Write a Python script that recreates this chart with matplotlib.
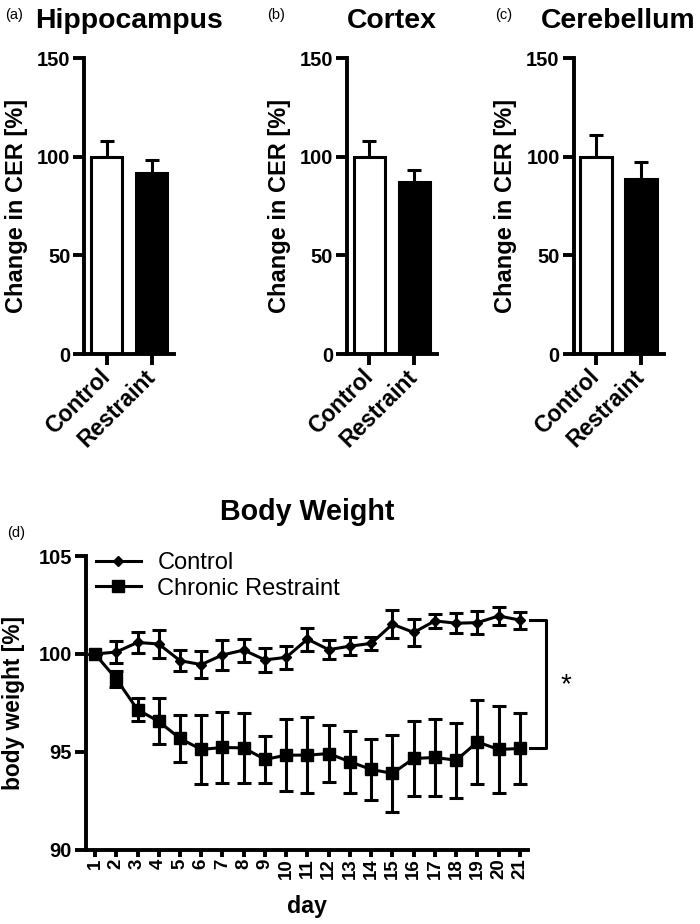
import matplotlib
matplotlib.use("Agg")
import matplotlib.pyplot as plt
from matplotlib.lines import Line2D
import numpy as np

plt.rcParams['font.family'] = ['Liberation Sans', 'DejaVu Sans']

# ---------------- data ----------------
groups = ["Control", "Restraint"]
regions = ["Hippocampus", "Cortex", "Cerebellum"]
panel_tags = ["(a)", "(b)", "(c)"]
control_cer = [100.0, 100.0, 100.0]
control_cer_sem = [7.8, 7.9, 11.3]
restraint_cer = [92.0, 87.3, 89.0]
restraint_cer_sem = [6.4, 5.8, 8.3]

days = list(range(1, 22))
control_bw = [100.0, 100.1, 100.59, 100.51, 99.66, 99.46, 99.95, 100.2, 99.7, 99.83,
              100.76, 100.22, 100.4, 100.54, 101.52, 101.1, 101.69, 101.57, 101.6,
              101.94, 101.73]
control_bw_sem = [0.0, 0.57, 0.55, 0.72, 0.52, 0.7, 0.77, 0.59, 0.6, 0.57,
                  0.59, 0.49, 0.46, 0.34, 0.72, 0.69, 0.36, 0.5, 0.59, 0.48, 0.43]
restraint_bw = [100.0, 98.73, 97.16, 96.56, 95.69, 95.13, 95.23, 95.21, 94.62, 94.84,
                94.84, 94.92, 94.5, 94.11, 93.91, 94.67, 94.72, 94.58, 95.51, 95.13,
                95.18]
restraint_bw_sem = [0.0, 0.4, 0.58, 1.17, 1.21, 1.75, 1.81, 1.8, 1.21, 1.82,
                    1.93, 1.44, 1.57, 1.55, 1.95, 1.93, 1.97, 1.91, 2.12, 2.21, 1.79]

W, H = 700, 924
fig = plt.figure(figsize=(W / 100, H / 100), dpi=100)


def px_axes(left, top, right, bottom):
    return fig.add_axes([left / W, 1 - bottom / H, (right - left) / W, (bottom - top) / H])


SLW = 2.8   # spines / ticks
LW = 2.2    # data lines

# ---------------- bar panels ----------------
lefts = [84.2, 346.9, 573.6]
for i in range(3):
    ax = px_axes(lefts[i], 58.3, lefts[i] + 90, 354)
    x = np.arange(len(groups))
    means = [control_cer[i], restraint_cer[i]]
    sems = [control_cer_sem[i], restraint_cer_sem[i]]
    ax.errorbar(x, means, yerr=[[0, 0], sems], fmt='none', ecolor='black',
                elinewidth=LW, capsize=5.2, capthick=LW, zorder=1)
    ax.bar(x, means, width=0.7, color=['white', 'black'], edgecolor='black',
           linewidth=LW, zorder=2)
    ax.set_xlim(-0.5, 1.5)
    ax.set_ylim(0, 150)
    ax.set_yticks([0, 50, 100, 150])
    ax.set_xticks(x)
    ax.set_xticklabels(groups, rotation=45, ha='right', va='center',
                       rotation_mode='anchor', fontweight='bold', fontsize=16.5)
    for lab in ax.get_yticklabels():
        lab.set_fontweight('bold')
        lab.set_fontsize(14.5)
    ax.tick_params(axis='both', length=8, width=SLW, pad=2)
    ax.tick_params(axis='x', pad=6)
    for s in ['top', 'right']:
        ax.spines[s].set_visible(False)
    for s in ['left', 'bottom']:
        ax.spines[s].set_linewidth(SLW)
    ax.set_ylabel("Change in CER [%]", fontsize=17, fontweight='bold')
    ax.yaxis.set_label_coords(-0.625, 0.5)
    ax.set_title(regions[i], fontsize=20.4, fontweight='bold', pad=22)

fig.text(5 / W, 1 - 19 / H, panel_tags[0], fontsize=10.5, va='baseline')
fig.text(267 / W, 1 - 19 / H, panel_tags[1], fontsize=10.5, va='baseline')
fig.text(495 / W, 1 - 19 / H, panel_tags[2], fontsize=10.5, va='baseline')

# ---------------- body weight ----------------
ax = px_axes(86, 556, 528, 850)
ax.errorbar(days, restraint_bw, yerr=restraint_bw_sem, fmt='none',
            ecolor='black', elinewidth=LW, capsize=5.3, capthick=LW, zorder=2)
ax.errorbar(days, control_bw, yerr=control_bw_sem, fmt='none',
            ecolor='black', elinewidth=LW, capsize=4.7, capthick=LW, zorder=2)
ax.plot(days, restraint_bw, color='black', lw=LW, marker='s', markersize=8.5, zorder=3)
ax.plot(days, control_bw, color='black', lw=LW, marker='D', markersize=5.5, zorder=3)

ax.set_xlim(0.576, 21.38)
ax.set_ylim(90, 105)
ax.set_yticks([90, 95, 100, 105])
ax.set_xticks(days)
ax.set_xticklabels([str(d) for d in days], rotation=90, ha='center', va='top',
                   fontweight='bold', fontsize=13.5)
for lab in ax.get_yticklabels():
    lab.set_fontweight('bold')
    lab.set_fontsize(14.5)
ax.tick_params(axis='y', length=8, width=SLW, pad=2)
ax.tick_params(axis='x', length=5, width=SLW, pad=1)
for s in ['top', 'right']:
    ax.spines[s].set_visible(False)
for s in ['left', 'bottom']:
    ax.spines[s].set_linewidth(SLW)
ax.set_ylabel("body weight [%]", fontsize=16.4, fontweight='bold')
ax.yaxis.set_label_coords(-0.138, 0.5)

# significance bracket
xb0, xb1 = 21.47, 22.21
ax.plot([xb0, xb1, xb1, xb0], [control_bw[-1], control_bw[-1], restraint_bw[-1], restraint_bw[-1]],
        color='black', lw=LW, clip_on=False)
ax.text(23.16, 98.4, "*", fontsize=20, ha='center', va='center', clip_on=False)

handles = [Line2D([], [], color='black', lw=LW, marker='D', markersize=5.5),
           Line2D([], [], color='black', lw=LW, marker='s', markersize=8.5)]
fig.legend(handles, ["Control", "Chronic Restraint"], loc='upper left',
           bbox_to_anchor=(96 / W, 1 - 552 / H), frameon=False, fontsize=17,
           handlelength=1.9, handletextpad=0.7, labelspacing=0.15, borderpad=0,
           borderaxespad=0)

fig.text(307 / W, 1 - 520 / H, "Body Weight", fontsize=20.6, fontweight='bold',
         ha='center', va='baseline')
fig.text(7 / W, 1 - 537 / H, "(d)", fontsize=10.5, va='baseline')
fig.text(307 / W, 1 - 913 / H, "day", fontsize=16.7, fontweight='bold',
         ha='center', va='baseline')

fig.savefig("out.png", dpi=100)
